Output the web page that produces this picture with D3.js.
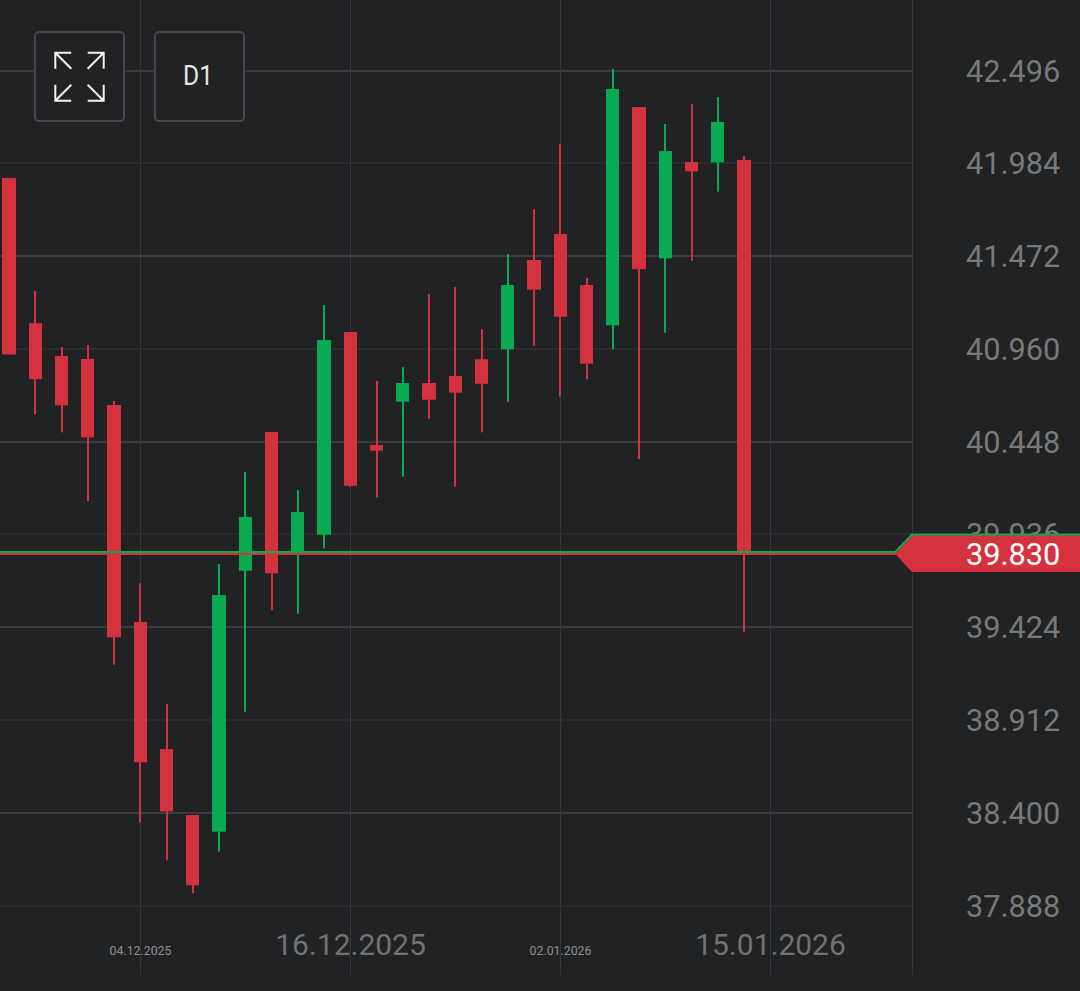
<!DOCTYPE html>
<html>
<head>
<meta charset="utf-8">
<style>
html,body{margin:0;padding:0;background:#212224;overflow:hidden}
svg{display:block;font-family:Roboto,sans-serif}
</style>
<script src="https://cdn.jsdelivr.net/npm/d3@7"></script>
</head>
<body>
<svg id="chart" width="1080" height="991"></svg>
<script>
const opens  = [41.906,41.104,40.923,40.907,40.653,39.455,38.754,38.390,38.298,39.738,40.504,39.842,39.937,41.056,40.432,40.671,40.774,40.813,40.905,40.960,41.453,41.596,41.315,41.093,42.297,41.462,41.994,41.992,42.005];
const highs  = [41.906,41.282,40.973,40.984,40.675,39.669,39.003,38.390,39.775,40.283,40.504,40.184,41.205,41.056,40.785,40.862,41.265,41.304,41.071,41.486,41.734,42.093,41.354,42.507,42.297,42.204,42.314,42.352,42.027];
const lows   = [40.932,40.601,40.502,40.123,39.220,38.348,38.140,37.958,38.188,38.960,39.520,39.501,39.862,40.202,40.143,40.257,40.577,40.202,40.502,40.671,40.980,40.699,40.795,40.960,40.355,41.052,41.449,41.830,39.400];
const closes = [40.932,40.795,40.651,40.474,39.371,38.681,38.410,38.002,39.604,40.035,39.724,40.062,41.011,40.207,40.401,40.774,40.682,40.721,40.770,41.315,41.289,41.140,40.881,42.397,41.402,42.054,41.942,42.215,39.830];
const priceTicks = [42.496,41.984,41.472,40.960,40.448,39.936,39.424,38.912,38.400,37.888];
const dateTickIndex = [5,13,21,29];
const dateTickLabels = ["04.12.2025","16.12.2025","02.01.2026","15.01.2026"];
const dateTickBig = [false,true,false,true];
const bidPrice = 39.830;
const askPrice = 39.841;
const timeframe = "D1";

const BG="#212224", RED="#d4323f", GREEN="#0aaa52";
const plotRight=912, plotBottom=975;
const svg=d3.select("#chart");
const x=d3.scaleLinear().domain([5,29]).range([140.5,770.5]);
const y=d3.scaleLinear().domain([42.496,37.888]).range([71,906]);

svg.append("rect").attr("width",1080).attr("height",991).attr("fill",BG);

// grid
svg.append("g").selectAll("line").data(priceTicks).join("line")
  .attr("x1",0).attr("x2",plotRight)
  .attr("y1",d=>Math.floor(y(d))).attr("y2",d=>Math.floor(y(d)))
  .attr("stroke",(d,i)=>i%2===0?"#3a3b3f":"#2b2c2f").attr("stroke-width",2);
svg.append("g").selectAll("line").data(dateTickIndex).join("line")
  .attr("x1",d=>x(d)).attr("x2",d=>x(d)).attr("y1",0).attr("y2",plotBottom)
  .attr("stroke","#36373b").attr("stroke-width",1);
svg.append("line").attr("x1",plotRight+0.5).attr("x2",plotRight+0.5).attr("y1",0).attr("y2",plotBottom)
  .attr("stroke","#36373b").attr("stroke-width",1);

// candles
const idx=d3.range(opens.length);
const color=i=>closes[i]>opens[i]?GREEN:RED;
const g=svg.append("g");
g.selectAll("rect.wick").data(idx).join("rect").attr("class","wick")
  .attr("x",i=>Math.round(x(i)-1.2)).attr("width",2)
  .attr("y",i=>y(highs[i])).attr("height",i=>y(lows[i])-y(highs[i]))
  .attr("fill",color);
g.selectAll("rect.body").data(idx).join("rect").attr("class","body")
  .attr("x",i=>Math.round(x(i)-6.9))
  .attr("width",i=>Math.round(x(i)+6.3)-Math.round(x(i)-6.9))
  .attr("y",i=>y(Math.max(opens[i],closes[i])))
  .attr("height",i=>Math.abs(y(opens[i])-y(closes[i])))
  .attr("fill",color);

// price labels
svg.append("g").selectAll("text").data(priceTicks).join("text")
  .attr("x",966).attr("y",d=>Math.floor(y(d))+11)
  .attr("font-size",30.7).attr("fill","#787979")
  .text(d=>d.toFixed(3));

// date labels
svg.append("g").selectAll("text").data(dateTickIndex).join("text")
  .attr("x",d=>x(d)).attr("y",955).attr("text-anchor","middle")
  .attr("font-size",(d,i)=>dateTickBig[i]?30:12.3)
  .attr("fill",(d,i)=>dateTickBig[i]?"#717273":"#8f9091")
  .text((d,i)=>dateTickLabels[i]);

// current price lines and tag
const by=y(bidPrice), ay=y(askPrice);
svg.append("polygon")
  .attr("points",[[895,by-0.5],[912,535],[1080,535],[1080,572],[912,572]].join(" "))
  .attr("fill",RED);
svg.append("line").attr("x1",0).attr("x2",896).attr("y1",by).attr("y2",by)
  .attr("stroke",RED).attr("stroke-width",2);
svg.append("path").attr("fill","none").attr("stroke",GREEN).attr("stroke-width",2)
  .attr("d",d3.line()([[0,ay],[895,ay],[912,534.5],[1080,534.5]]));
svg.append("text").attr("x",966).attr("y",565).attr("font-size",30.7).attr("fill","#ffffff")
  .text(bidPrice.toFixed(3));

// buttons
[35,155].forEach(bx=>{
  svg.append("rect").attr("x",bx).attr("y",32).attr("width",89).attr("height",89).attr("rx",4)
    .attr("fill",BG).attr("stroke","#48494c").attr("stroke-width",2);
});
svg.append("text").attr("x",183).attr("y",85).attr("font-size",28).attr("fill","#e6e6e6")
  .attr("textLength",30).attr("lengthAdjust","spacingAndGlyphs").text(timeframe);
const arrows=[[55.3,52.7,1,1],[103.7,52.7,-1,1],[55.3,100.7,1,-1],[103.7,100.7,-1,-1]];
arrows.forEach(([cx,cy,sx,sy])=>{
  svg.append("path").attr("fill","none").attr("stroke","#f2f2f2").attr("stroke-width",2)
    .attr("d",`M${cx+sx*16},${cy}H${cx}V${cy+sy*16}M${cx},${cy}L${cx+sx*16},${cy+sy*16}`);
});
</script>
</body>
</html>
